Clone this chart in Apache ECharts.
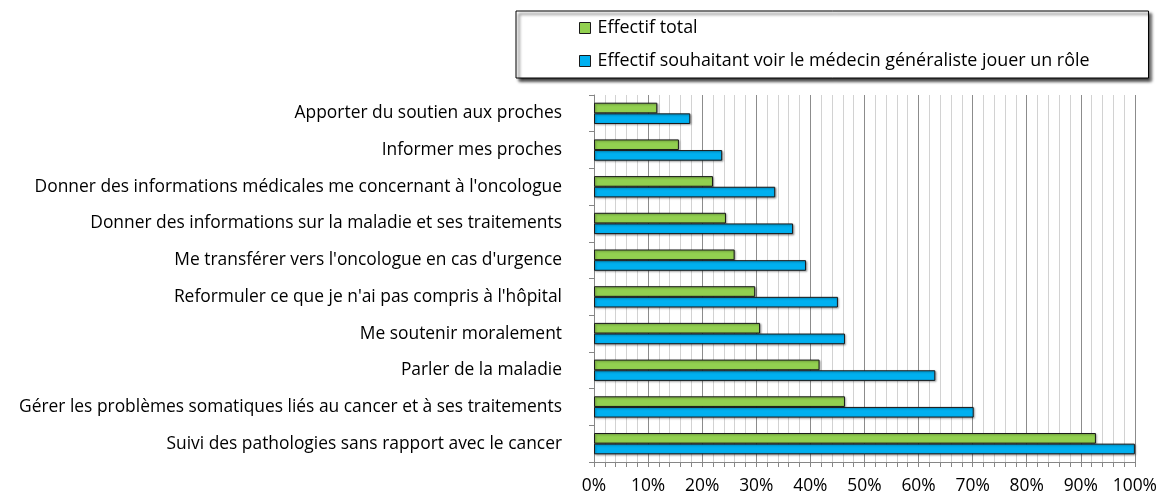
<!DOCTYPE html>
<html>
<head>
<meta charset="utf-8">
<script src="https://cdn.jsdelivr.net/npm/echarts@6/dist/echarts.min.js"></script>
<style>
  html, body { margin: 0; padding: 0; background: #fff; }
  #chart { width: 1160px; height: 495px; }
</style>
</head>
<body>
<div id="chart"></div>
<script>
// catégories, de haut en bas
const categories = [
  'Apporter du soutien aux proches',
  'Informer mes proches',
  "Donner des informations médicales me concernant à l'oncologue",
  'Donner des informations sur la maladie et ses traitements',
  "Me transférer vers l'oncologue en cas d'urgence",
  "Reformuler ce que je n'ai pas compris à l'hôpital",
  'Me soutenir moralement',
  'Parler de la maladie',
  'Gérer les problèmes somatiques liés au cancer et à ses traitements',
  'Suivi des pathologies sans rapport avec le cancer'
]

// valeurs en %
const effectifTotal = [11.7, 15.7, 22.0, 24.4, 26.0, 29.8, 30.7, 41.7, 46.4, 92.8]
const effectifRole = [17.8, 23.7, 33.5, 36.8, 39.2, 45.1, 46.4, 63.1, 70.2, 100]

const seriesNames = ['Effectif total', 'Effectif souhaitant voir le médecin généraliste jouer un rôle']

const FONT = 'Open Sans'
const FS = 17.4

const chart = echarts.init(document.getElementById('chart'))

const barStyle = (color) => ({
  color: color,
  borderColor: '#1a1a1a',
  borderWidth: 1,
  shadowColor: 'rgba(0,0,0,0.35)',
  shadowBlur: 2,
  shadowOffsetX: 1,
  shadowOffsetY: 1
})

chart.setOption({
  backgroundColor: '#fff',
  animation: false,
  textStyle: { fontFamily: FONT },
  legend: {
    orient: 'vertical',
    left: 516,
    top: 11,
    padding: [8, 59, 8, 63],
    itemWidth: 11,
    itemHeight: 11,
    itemGap: 15,
    backgroundColor: '#fff',
    borderColor: '#000',
    borderWidth: 1,
    shadowColor: 'rgba(0,0,0,0.8)',
    shadowBlur: 3,
    shadowOffsetX: 3,
    shadowOffsetY: 3,
    icon: 'rect',
    itemStyle: { borderColor: '#1a1a1a', borderWidth: 1 },
    textStyle: { fontFamily: FONT, fontSize: 17.9, color: '#000', padding: [0, 0, 0, 2] },
    data: seriesNames
  },
  grid: { left: 594, right: 24, top: 95, bottom: 33, containLabel: false },
  xAxis: {
    type: 'value',
    min: 0,
    max: 100,
    interval: 10,
    axisLine: { show: true, lineStyle: { color: '#868686', width: 1 } },
    axisTick: { show: true, length: 5, lineStyle: { color: '#868686' } },
    minorTick: { show: true, splitNumber: 5, length: 5, lineStyle: { color: '#868686' } },
    axisLabel: {
      formatter: '{value}%',
      color: '#000',
      fontFamily: FONT,
      fontSize: FS,
      margin: 16
    },
    splitLine: { show: true, lineStyle: { color: '#8c8c8c', width: 1 } },
    minorSplitLine: { show: true, lineStyle: { color: '#d2d2d2', width: 1 } }
  },
  yAxis: {
    type: 'category',
    inverse: true,
    data: categories,
    axisLine: { show: true, lineStyle: { color: '#868686', width: 1 } },
    axisTick: { show: true, length: 5, lineStyle: { color: '#868686' } },
    axisLabel: {
      color: '#000',
      fontFamily: FONT,
      fontSize: FS,
      margin: 32
    }
  },
  series: [
    {
      name: seriesNames[0],
      type: 'bar',
      data: effectifTotal,
      barGap: '0%',
      barCategoryGap: '42%',
      itemStyle: barStyle('#92D050')
    },
    {
      name: seriesNames[1],
      type: 'bar',
      data: effectifRole,
      barGap: '0%',
      barCategoryGap: '42%',
      itemStyle: barStyle('#00B0F0')
    }
  ]
})
</script>
</body>
</html>
